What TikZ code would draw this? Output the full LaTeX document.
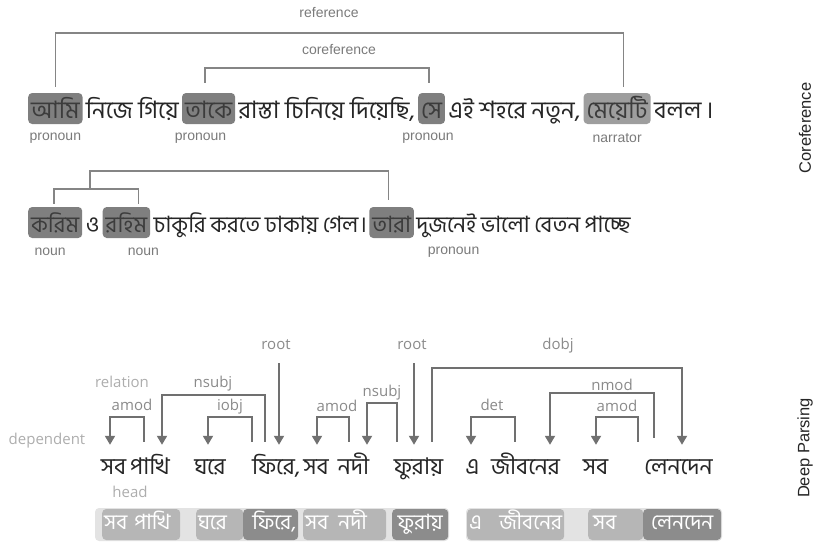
\documentclass[tikz,border=0pt]{standalone}
\usepackage{fontspec}
\setmainfont{Liberation Sans}
\newfontfamily\bn[Script=Bengali]{Hind Siliguri}
\newfontfamily\lbf{Open Sans}
\usetikzlibrary{arrows.meta}
\definecolor{hlbox}{HTML}{7F7F7F}
\definecolor{hlnarr}{HTML}{9E9E9E}
\definecolor{brk}{HTML}{858585}
\definecolor{arr}{HTML}{707070}
\definecolor{poscol}{HTML}{7A7A7A}
\definecolor{deplab}{HTML}{8A8A8A}
\definecolor{faint}{HTML}{ADADAD}
\definecolor{strip}{HTML}{E3E3E3}
\definecolor{lbox}{HTML}{B6B6B6}
\definecolor{dbox}{HTML}{8C8C8C}
\definecolor{ink}{HTML}{262626}
\begin{document}
\begin{tikzpicture}[x=1pt,y=-1pt,
  sword/.style={font=\bn\fontsize{24}{28}\selectfont, text=ink, inner xsep=0pt, inner ysep=0pt, anchor=base west, text height=25pt, text depth=6pt},
  hl/.style={sword, fill=hlbox, rounded corners=4pt, text=ink!90, inner xsep=3pt},
  rtwo/.style={font=\bn\fontsize{22.5}{27}\selectfont},
  poslab/.style={font=\fontsize{14}{16}\selectfont, text=poscol, inner sep=0pt},
  bracket/.style={draw=brk, line width=1.6pt},
  pword/.style={font=\bn\fontsize{23}{26}\selectfont, text=ink, inner sep=0pt, anchor=base, text height=29pt, text depth=6pt},
  dep/.style={draw=arr, line width=1.8pt, -{Triangle[length=9pt,width=10pt]}},
  deplabel/.style={font=\lbf\fontsize{15}{17}\selectfont, text=deplab, inner sep=0pt, text height=11pt, text depth=3pt},
  faintlabel/.style={deplabel, text=faint},
  side/.style={font=\fontsize{16.5}{18}\selectfont, text=ink, rotate=90, inner sep=0pt},
  barbox/.style={font=\bn\fontsize{21}{24}\selectfont, text=white, inner xsep=2pt, inner ysep=0pt, rounded corners=4pt, anchor=west, minimum height=31pt, text height=16pt, text depth=6pt},
  lb/.style={barbox, fill=lbox},
  db/.style={barbox, fill=dbox}]
\useasboundingbox (0,0) rectangle (819,549);

% ---------- Coreference, sentence 1 ----------
\node[hl] (ami) at (28,118) {আমি};
\node[sword] (s1w2) at ([xshift=3pt]ami.base east) {নিজে};
\node[sword] (s1w3) at ([xshift=5pt]s1w2.base east) {গিয়ে};
\node[hl] (take) at ([xshift=3pt]s1w3.base east) {তাকে};
\node[sword] (s1w5) at ([xshift=3pt]take.base east) {রাস্তা};
\node[sword] (s1w6) at ([xshift=5pt]s1w5.base east) {চিনিয়ে};
\node[sword] (s1w7) at ([xshift=5pt]s1w6.base east) {দিয়েছি,};
\node[hl] (se) at ([xshift=3pt]s1w7.base east) {সে};
\node[sword] (s1w9) at ([xshift=3pt]se.base east) {এই};
\node[sword] (s1w10) at ([xshift=5pt]s1w9.base east) {শহরে};
\node[sword] (s1w11) at ([xshift=5pt]s1w10.base east) {নতুন,};
\node[hl, fill=hlnarr] (meye) at ([xshift=3pt]s1w11.base east) {মেয়েটি};
\node[sword] (s1w13) at ([xshift=3pt]meye.base east) {বলল};
\node[sword] (s1w14) at ([xshift=4pt]s1w13.base east) {।};

\node[poslab] (p1) at ([yshift=-14pt]ami.south) {pronoun};
\node[poslab] (p2) at ([xshift=-8pt,yshift=-14pt]take.south) {pronoun};
\node[poslab] (p3) at ([xshift=-3.5pt,yshift=-14pt]se.south) {pronoun};
\node[poslab] (p4) at ([yshift=-14pt]meye.south) {narrator};

\node[poslab] (reflab) at (329,13) {reference};
\node[poslab] (coreflab) at (339,50) {coreference};
\coordinate (refbar) at (329,33);
\coordinate (corbar) at (339,68);
\draw[bracket] ([yshift=6pt]ami.north) |- (refbar) -| ([xshift=6.5pt,yshift=6pt]meye.north);
\draw[bracket] ([xshift=-3.5pt,yshift=10pt]take.north) |- (corbar) -| ([xshift=-2.5pt,yshift=10pt]se.north);

% ---------- Coreference, sentence 2 ----------
\node[hl, rtwo] (karim) at (28,232) {করিম};
\node[sword, rtwo] (s2w2) at ([xshift=3pt]karim.base east) {ও};
\node[hl, rtwo] (rahim) at ([xshift=3pt]s2w2.base east) {রহিম};
\node[sword, rtwo] (s2w4) at ([xshift=3pt]rahim.base east) {চাকুরি};
\node[sword, rtwo] (s2w5) at ([xshift=4pt]s2w4.base east) {করতে};
\node[sword, rtwo] (s2w6) at ([xshift=4pt]s2w5.base east) {ঢাকায়};
\node[sword, rtwo] (s2w7) at ([xshift=4pt]s2w6.base east) {গেল};
\node[sword, rtwo] (s2w8) at ([xshift=1pt]s2w7.base east) {।};
\node[hl, rtwo] (tara) at ([xshift=2pt]s2w8.base east) {তারা};
\node[sword, rtwo] (s2w10) at ([xshift=2pt]tara.base east) {দুজনেই};
\node[sword, rtwo] (s2w11) at ([xshift=4pt]s2w10.base east) {ভালো};
\node[sword, rtwo] (s2w12) at ([xshift=4pt]s2w11.base east) {বেতন};
\node[sword, rtwo] (s2w13) at ([xshift=4pt]s2w12.base east) {পাচ্ছে};

\node[poslab] (n1) at ([xshift=-5pt,yshift=-14pt]karim.south) {noun};
\node[poslab] (n2) at ([xshift=17pt,yshift=-14pt]rahim.south) {noun};
\node[poslab] (n3) at ([xshift=62pt,yshift=-14pt]tara.south) {pronoun};

\coordinate (innbar) at (90,189);
\draw[bracket] ([xshift=-1pt,yshift=3pt]karim.north) |- (innbar) -| ([xshift=12pt,yshift=3pt]rahim.north);
\draw[bracket] (innbar) -- ++(0,-18) -| ([xshift=-3pt,yshift=7pt]tara.north);

\node[side] (sideA) at (805,128) {Coreference};

% ---------- Deep Parsing ----------
\node[pword] (w1) at (113.5,474) {সব};
\node[pword] (w2) at (150,474) {পাখি};
\node[pword] (w3) at (210,474) {ঘরে};
\node[pword] (w4) at (276,474) {ফিরে,};
\node[pword] (w5) at (316,474) {সব};
\node[pword] (w6) at (353.5,474) {নদী};
\node[pword] (w7) at (418.5,474) {ফুরায়};
\node[pword] (w8) at (472.5,474) {এ};
\node[pword] (w9) at (525.5,474) {জীবনের};
\node[pword] (w10) at (595.5,474) {সব};
\node[pword] (w11) at (678.5,474) {লেনদেন};

\node[faintlabel] (relation) at (122,383) {relation};
\node[faintlabel] (dependent) at (47,440) {dependent};
\node[faintlabel] (headlab) at (130,493) {head};

\node[deplabel] (l1) at (132,406) {amod};
\node[deplabel] (l2) at (213,383) {nsubj};
\node[deplabel] (l3) at (230,406) {iobj};
\node[deplabel] (rl1) at (276,345) {root};
\node[deplabel] (l5) at (337,407) {amod};
\node[deplabel] (l6) at (382,392) {nsubj};
\node[deplabel] (rl2) at (412,345) {root};
\node[deplabel] (l8) at (558,345) {dobj};
\node[deplabel] (l9) at (492,406) {det};
\node[deplabel] (l10) at (612,386) {nmod};
\node[deplabel] (l11) at (617,407) {amod};

\draw[dep] ([xshift=-6pt,yshift=3pt]w2.north) -- ++(0,-25) -| ([xshift=-3.5pt]w1.north);
\draw[dep] ([xshift=-11pt,yshift=3pt]w4.north) -- ++(0,-47) -| ([xshift=12pt]w2.north);
\draw[dep] ([xshift=-24pt,yshift=3pt]w4.north) -- ++(0,-25) -| ([xshift=-2pt]w3.north);
\draw[dep, shorten <=11pt] ([xshift=3pt]rl1.south) -- ([xshift=3pt]w4.north);
\draw[dep] ([xshift=-4.5pt,yshift=3pt]w6.north) -- ++(0,-25) -| ([xshift=1pt]w5.north);
\draw[dep] ([xshift=-21.5pt,yshift=3pt]w7.north) -- ++(0,-39) -| ([xshift=13.5pt]w6.north);
\draw[dep, shorten <=11pt] ([xshift=2pt]rl2.south) -- ([xshift=-4.5pt]w7.north);
\draw[dep] ([xshift=13.5pt,yshift=3pt]w7.north) -- ++(0,-74) -| ([xshift=3.5pt]w11.north);
\draw[dep] ([xshift=-10.5pt,yshift=3pt]w9.north) -- ++(0,-25) -| ([xshift=-1.5pt]w8.north);
\draw[dep] ([xshift=-24.5pt,yshift=7pt]w11.north) -- ++(0,-45) -| ([xshift=24.5pt]w9.north);
\draw[dep] ([xshift=-40.5pt,yshift=3pt]w11.north) -- ++(0,-25) -| ([xshift=0.5pt]w10.north);

% bottom bar
\fill[strip, rounded corners=4pt] (95,508) rectangle (449,541);
\fill[strip, rounded corners=4pt] (466,508) rectangle (722,541);
\node[lb, text width=74pt, align=left] (b1) at (102,524.5) {সব পাখি};
\node[lb, text width=43pt, align=left] (b2) at (196,524.5) {ঘরে};
\node[db, text width=51pt, align=right] (b3) at (243,524.5) {ফিরে,};
\node[lb, text width=79pt, align=left] (b4) at (303,524.5) {সব\hspace{10pt}নদী};
\node[db, text width=52pt, align=center] (b5) at (392,524.5) {ফুরায়};
\node[lb, text width=93pt, align=left] (b6) at (467,524.5) {এ\hfill জীবনের};
\node[lb, text width=51pt, align=left] (b7) at (588,524.5) {\hspace{3pt}সব};
\node[db, text width=74pt, align=center] (b8) at (643,524.5) {লেনদেন};

\node[side] (sideB) at (805,448) {Deep Parsing};
\end{tikzpicture}
\end{document}
